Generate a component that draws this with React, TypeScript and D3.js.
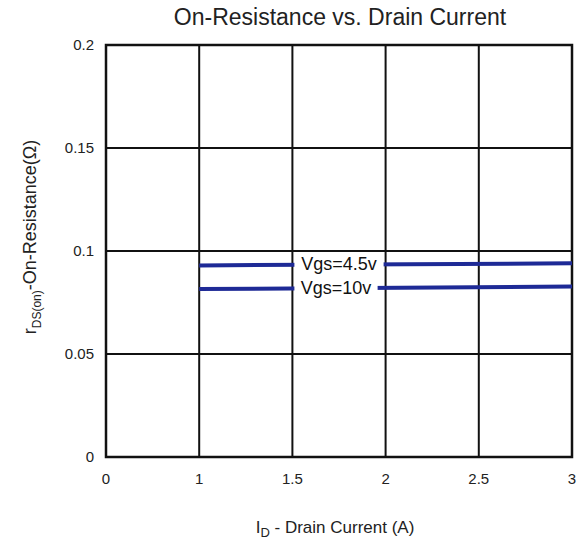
import React, { useRef, useEffect } from "react";
import * as d3 from "d3";

const xTicks = ["0", "1", "1.5", "2", "2.5", "3"];
const yTicks = [0, 0.05, 0.1, 0.15, 0.2];

const seriesNames = ["Vgs=4.5v", "Vgs=10v"];
const seriesX = ["1", "3"];
const vgs45 = [0.093, 0.094];
const vgs10 = [0.0815, 0.0828];

const App = () => {
  const svgRef = useRef<SVGSVGElement>(null);

  useEffect(() => {
    const width = 586;
    const height = 550;
    const margin = { top: 45, right: 14, bottom: 93, left: 106 };
    const font = "'Liberation Sans', Arial, sans-serif";

    const svg = d3
      .select(svgRef.current)
      .attr("width", width)
      .attr("height", height)
      .html("");

    svg.append("rect").attr("width", width).attr("height", height).attr("fill", "#fff");

    const x = d3
      .scalePoint<string>()
      .domain(xTicks)
      .range([margin.left, width - margin.right]);

    const y = d3
      .scaleLinear()
      .domain([0, 0.2])
      .range([height - margin.bottom, margin.top]);

    // grid
    svg
      .append("g")
      .selectAll("line")
      .data(xTicks.slice(1, -1))
      .join("line")
      .attr("x1", (d) => x(d)!)
      .attr("x2", (d) => x(d)!)
      .attr("y1", y(0))
      .attr("y2", y(0.2))
      .attr("stroke", "#111")
      .attr("stroke-width", 2);

    svg
      .append("g")
      .selectAll("line")
      .data(yTicks.slice(1, -1))
      .join("line")
      .attr("x1", x("0")!)
      .attr("x2", x("3")!)
      .attr("y1", (d) => y(d))
      .attr("y2", (d) => y(d))
      .attr("stroke", "#111")
      .attr("stroke-width", 2);

    svg
      .append("rect")
      .attr("x", x("0")!)
      .attr("y", y(0.2))
      .attr("width", x("3")! - x("0")!)
      .attr("height", y(0) - y(0.2))
      .attr("fill", "none")
      .attr("stroke", "#111")
      .attr("stroke-width", 2.5);

    // tick labels
    svg
      .append("g")
      .selectAll("text")
      .data(yTicks)
      .join("text")
      .attr("x", x("0")! - 12)
      .attr("y", (d) => y(d) + 5)
      .attr("text-anchor", "end")
      .attr("font-family", font)
      .attr("font-size", 15)
      .attr("fill", "#222")
      .text((d) => (d === 0 ? "0" : String(d)));

    svg
      .append("g")
      .selectAll("text")
      .data(xTicks)
      .join("text")
      .attr("x", (d) => x(d)!)
      .attr("y", y(0) + 27)
      .attr("text-anchor", "middle")
      .attr("font-family", font)
      .attr("font-size", 15)
      .attr("fill", "#222")
      .text((d) => d);

    // series
    const line = d3
      .line<number>()
      .x((_, i) => x(seriesX[i])!)
      .y((d) => y(d));

    [vgs45, vgs10].forEach((vals, k) => {
      svg
        .append("path")
        .attr("d", line(vals))
        .attr("fill", "none")
        .attr("stroke", "#1e2a96")
        .attr("stroke-width", 4);

      const mid = (vals[0] + vals[1]) / 2;
      const x0 = x("1.5")! + 2;
      const x1 = x("2")! - (k === 0 ? 2 : 8);
      svg
        .append("rect")
        .attr("x", x0)
        .attr("y", y(mid) - 7)
        .attr("width", x1 - x0)
        .attr("height", 14)
        .attr("fill", "#fff");
      svg
        .append("text")
        .attr("x", (x0 + x1) / 2)
        .attr("y", y(mid) + 6)
        .attr("text-anchor", "middle")
        .attr("font-family", font)
        .attr("font-size", 18)
        .attr("fill", "#111")
        .text(seriesNames[k]);
    });

    // titles
    svg
      .append("text")
      .attr("x", 340)
      .attr("y", 25)
      .attr("text-anchor", "middle")
      .attr("font-family", font)
      .attr("font-size", 23)
      .attr("fill", "#222")
      .text("On-Resistance vs. Drain Current");

    const xl = svg
      .append("text")
      .attr("x", 335)
      .attr("y", 533)
      .attr("text-anchor", "middle")
      .attr("font-family", font)
      .attr("font-size", 17)
      .attr("fill", "#222");
    xl.append("tspan").text("I");
    xl.append("tspan").attr("dy", 4).attr("font-size", 13).text("D");
    xl.append("tspan").attr("dy", -4).text(" - Drain Current (A)");

    const yl = svg
      .append("text")
      .attr("transform", "translate(36,237) rotate(-90)")
      .attr("text-anchor", "middle")
      .attr("font-family", font)
      .attr("font-size", 18)
      .attr("fill", "#222");
    yl.append("tspan").text("r");
    yl.append("tspan").attr("dy", 5).attr("font-size", 12).text("DS(on)");
    yl.append("tspan").attr("dy", -5).text("-On-Resistance(Ω)");
  }, []);

  return (
    <svg
      ref={svgRef}
      style={{ position: "absolute", left: 0, top: 0, display: "block" }}
    />
  );
};

export default App;
